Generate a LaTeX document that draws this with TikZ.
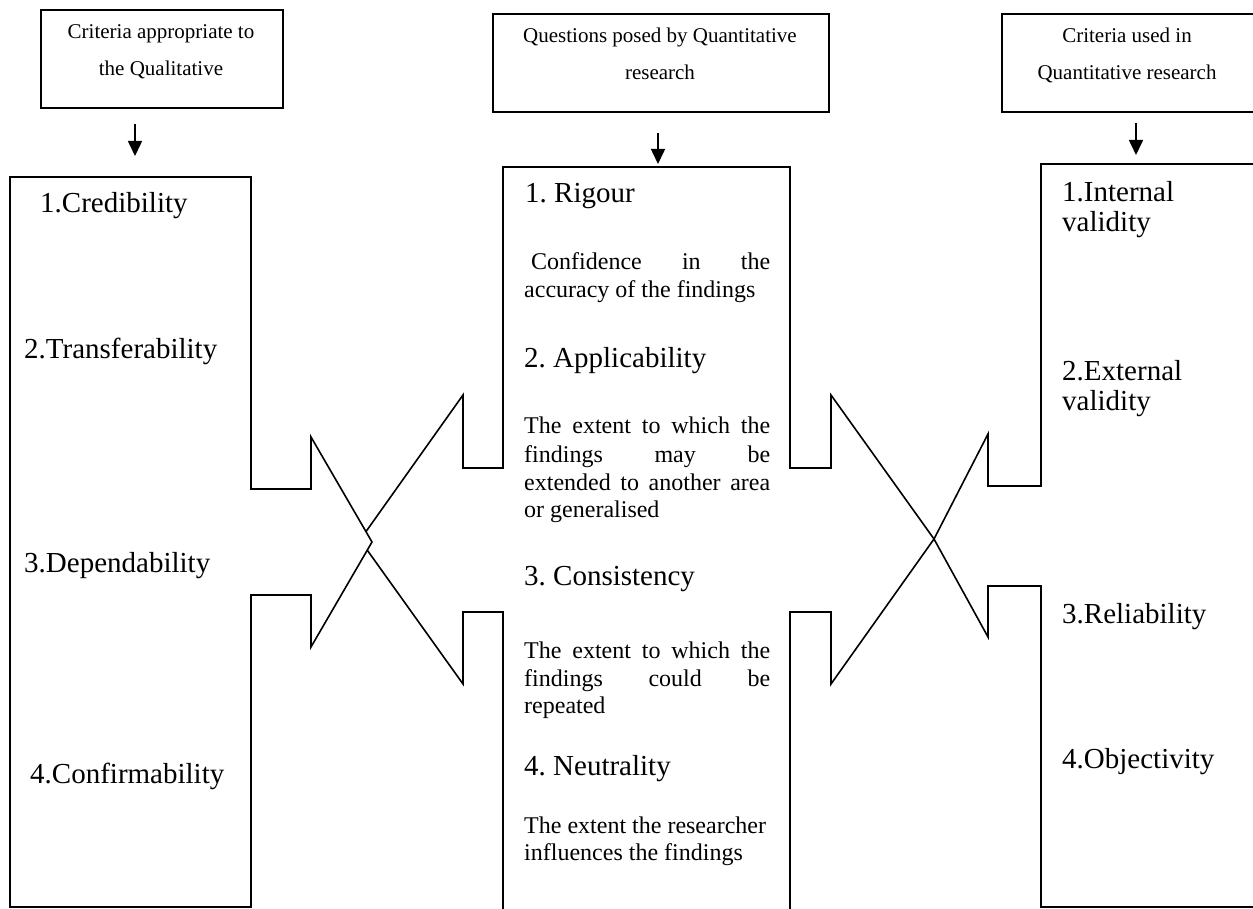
\documentclass[tikz,border=0pt]{standalone}
\usepackage{fontspec}
\setmainfont{Liberation Serif}
\usetikzlibrary{arrows.meta}
\frenchspacing
\begin{document}
\begin{tikzpicture}[x=1pt,y=-1pt,
  outline/.style={draw=black, line width=1.6pt, fill=white, line join=miter},
  headbox/.style={draw=black, line width=1.6pt, anchor=north west, inner sep=0pt},
  headtxt/.style={anchor=base, inner sep=0pt, font=\fontsize{21}{25}\selectfont},
  itemtxt/.style={anchor=base west, inner sep=0pt, font=\fontsize{29}{34}\selectfont},
  bodytxt/.style={anchor=base west, inner sep=0pt, font=\fontsize{24}{28}\selectfont},
  downarrow/.style={-{Triangle[width=14pt,length=15pt]}, line width=1.6pt},
]
\useasboundingbox (0,0) rectangle (1253,909);
\clip (0,0) rectangle (1253,909);

% heading boxes
\node[headbox, minimum width=242pt, minimum height=98pt] (qualhead) at (40,9) {};
\node[headbox, minimum width=336pt, minimum height=98pt] (queshead) at (492,13) {};
\node[headbox, minimum width=252.5pt, minimum height=98pt] (quanhead) at (1001,13) {};

\node[headtxt] (qh1) at (161,39) {Criteria appropriate to};
\node[headtxt] (qh2) at (161,76) {the Qualitative};
\node[headtxt] (sh1) at (660,43) {Questions posed by Quantitative};
\node[headtxt] (sh2) at (660,80) {research};
\node[headtxt] (nh1) at (1127,43) {Criteria used in};
\node[headtxt] (nh2) at (1127,80) {Quantitative research};

% arrows from heading boxes
\coordinate (qa1) at (135,124); \coordinate (qa2) at (135,156);
\coordinate (sa1) at (658,133); \coordinate (sa2) at (658,164);
\coordinate (na1) at (1136,123); \coordinate (na2) at (1136,155);
\draw[downarrow] (qa1) -- (qa2);
\draw[downarrow] (sa1) -- (sa2);
\draw[downarrow] (na1) -- (na2);

% middle column with arrows pointing both ways
\draw[outline] (503,167) -- (790,167) -- (790,468) -- (831,468) -- (831,395)
  -- (934,539) -- (831,684) -- (831,612) -- (790,612) -- (790,960)
  -- (503,960) -- (503,612) -- (463,612) -- (463,684) -- (360,540)
  -- (463,395) -- (463,468) -- (503,468) -- cycle;

% right column with arrow pointing left
\draw[outline] (1041,164) -- (1270,164) -- (1270,907) -- (1041,907)
  -- (1041,586) -- (988,586) -- (988,637) -- (934,539) -- (988,434)
  -- (988,486) -- (1041,486) -- cycle;

% left column with arrow pointing right
\draw[outline] (10,177) -- (251,177) -- (251,489) -- (311,489) -- (311,437)
  -- (372,542) -- (311,647) -- (311,595) -- (251,595) -- (251,907)
  -- (10,907) -- cycle;

% left column items
\node[itemtxt] (cred) at (40,213) {1.Credibility};
\node[itemtxt] (tran) at (24,358) {2.Transferability};
\node[itemtxt] (depe) at (24,572) {3.Dependability};
\node[itemtxt] (conf) at (30,783) {4.Confirmability};

% right column items
\node[itemtxt] (intv) at (1062,202) {1.Internal};
\node[itemtxt] (intv2) at (1062,232) {validity};
\node[itemtxt] (extv) at (1062,380) {2.External};
\node[itemtxt] (extv2) at (1062,410) {validity};
\node[itemtxt] (reli) at (1062,623) {3.Reliability};
\node[itemtxt] (obje) at (1062,768) {4.Objectivity};

% middle column items and explanations
\node[itemtxt] (rig) at (525,203) {1. Rigour};
\node[bodytxt] (rig1) at (531,270) {\makebox[239pt][s]{Confidence in the}};
\node[bodytxt] (rig2) at (524,298) {accuracy of the findings};

\node[itemtxt] (app) at (524,367) {2. Applicability};
\node[bodytxt] (app1) at (524,433) {\makebox[246pt][s]{The extent to which the}};
\node[bodytxt] (app2) at (524,462) {\makebox[246pt][s]{findings may be}};
\node[bodytxt] (app3) at (524,490) {\makebox[246pt][s]{extended to another area}};
\node[bodytxt] (app4) at (524,517) {or generalised};

\node[itemtxt] (con) at (524,585) {3. Consistency};
\node[bodytxt] (con1) at (524,658) {\makebox[246pt][s]{The extent to which the}};
\node[bodytxt] (con2) at (524,686) {\makebox[246pt][s]{findings could be}};
\node[bodytxt] (con3) at (524,713) {repeated};

\node[itemtxt] (neu) at (524,775) {4. Neutrality};
\node[bodytxt] (neu1) at (524,833) {The extent the researcher};
\node[bodytxt] (neu2) at (524,860) {influences the findings};
\end{tikzpicture}
\end{document}
